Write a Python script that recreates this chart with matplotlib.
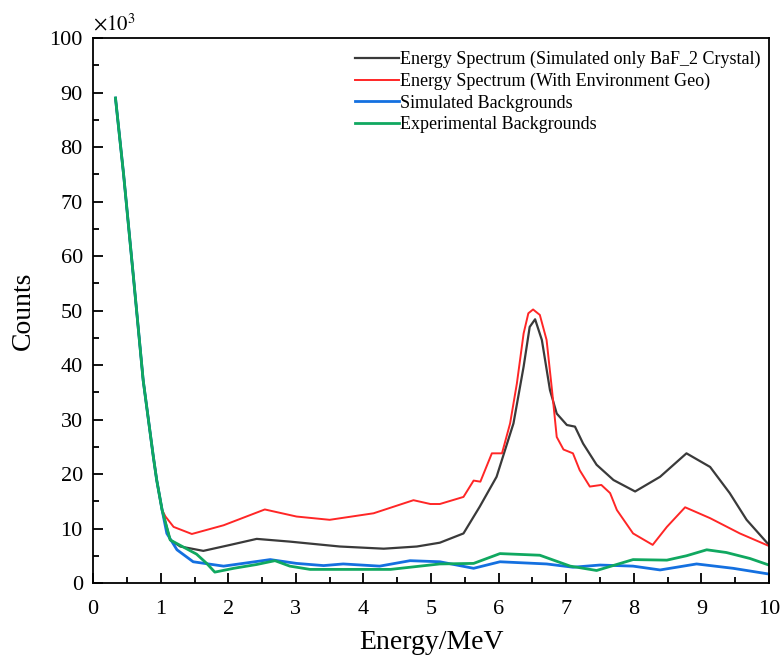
import numpy as np
import matplotlib.pyplot as plt
from matplotlib.ticker import MultipleLocator

plt.rcParams['font.family'] = ['Liberation Serif', 'DejaVu Serif']
plt.rcParams['mathtext.fontset'] = 'stix'

#Data (counts in units of 10^3)
x_black = [0.33, 0.45, 0.6, 0.74, 0.89, 0.94, 1.02, 1.14, 1.29, 1.63, 2.03, 2.42, 2.91, 3.65, 4.3, 4.79,
           5.13, 5.48, 5.72, 5.97, 6.22, 6.37, 6.46, 6.54, 6.64, 6.76, 6.86, 7.01, 7.13, 7.25, 7.45,
           7.7, 8.02, 8.39, 8.78, 9.13, 9.42, 9.67, 10.0]
y_black = [89.0, 75.0, 55.6, 37.2, 23.2, 18.9, 13.4, 7.9, 6.7, 5.9, 7.0, 8.1, 7.6, 6.7, 6.3, 6.7,
           7.4, 9.1, 14.0, 19.5, 29.3, 39.7, 47.0, 48.4, 44.6, 35.4, 31.1, 29.0, 28.7, 25.6, 21.7,
           18.9, 16.8, 19.5, 23.8, 21.3, 16.5, 11.6, 7.0]

x_red = [0.33, 0.45, 0.6, 0.74, 0.89, 0.94, 1.02, 1.07, 1.19, 1.46, 1.93, 2.54, 3.01, 3.5, 4.15, 4.74,
         4.99, 5.13, 5.48, 5.63, 5.73, 5.9, 6.05, 6.17, 6.27, 6.37, 6.44, 6.51, 6.61, 6.71, 6.79,
         6.86, 6.96, 7.1, 7.2, 7.35, 7.52, 7.65, 7.75, 7.99, 8.28, 8.49, 8.76, 9.13, 9.57, 10.0]
y_red = [89.0, 75.0, 55.6, 37.2, 23.2, 18.9, 13.4, 12.2, 10.3, 9.0, 10.6, 13.5, 12.2, 11.6, 12.8, 15.2,
         14.5, 14.5, 15.8, 18.8, 18.6, 23.8, 23.8, 29.3, 36.6, 45.8, 49.5, 50.2, 49.2, 44.6, 35.4,
         26.8, 24.5, 23.8, 20.7, 17.7, 18.0, 16.5, 13.4, 9.1, 7.0, 10.3, 13.9, 11.9, 9.1, 6.8]

x_blue = [0.33, 0.45, 0.6, 0.74, 0.89, 0.94, 1.02, 1.09, 1.24, 1.48, 1.93, 2.62, 3.01, 3.41, 3.7, 4.24,
          4.69, 5.13, 5.63, 6.02, 6.71, 7.1, 7.5, 7.99, 8.39, 8.93, 9.47, 10.0]
y_blue = [89.0, 75.0, 55.6, 37.2, 23.2, 18.9, 13.4, 9.1, 6.1, 3.9, 3.1, 4.3, 3.6, 3.2, 3.5, 3.1,
          4.1, 3.9, 2.7, 3.9, 3.5, 2.9, 3.3, 3.1, 2.4, 3.5, 2.7, 1.65]

x_green = [0.33, 0.45, 0.6, 0.74, 0.89, 0.94, 1.02, 1.14, 1.53, 1.68, 1.8, 2.08, 2.42, 2.69, 2.91, 3.21,
           4.4, 5.13, 5.63, 6.02, 6.61, 7.06, 7.45, 7.99, 8.49, 8.78, 9.08, 9.37, 9.72, 10.0]
y_green = [89.0, 75.0, 55.6, 37.2, 23.2, 18.9, 13.4, 7.9, 5.3, 3.6, 2.0, 2.7, 3.4, 4.1, 3.1, 2.5,
           2.5, 3.5, 3.6, 5.4, 5.1, 3.1, 2.3, 4.3, 4.2, 5.0, 6.1, 5.6, 4.5, 3.3]

labels = ['Energy Spectrum (Simulated only BaF_2 Crystal)',
          'Energy Spectrum (With Environment Geo)',
          'Simulated Backgrounds',
          'Experimental Backgrounds']

#Plot
fig = plt.figure(figsize=(7.83, 6.57), dpi=100)
ax = fig.add_axes([0.119, 0.1126, 0.863, 0.8294])

ax.plot(x_black, y_black, color='#3a3a3a', lw=1.6, label=labels[0])
ax.plot(x_red, y_red, color='#ff2626', lw=1.4, label=labels[1])
ax.plot(x_blue, y_blue, color='#1470e0', lw=2.0, label=labels[2])
ax.plot(x_green, y_green, color='#10a860', lw=2.0, label=labels[3])

ax.set_xlim(0, 10)
ax.set_ylim(0, 100)
ax.xaxis.set_major_locator(MultipleLocator(1))
ax.xaxis.set_minor_locator(MultipleLocator(0.5))
ax.yaxis.set_major_locator(MultipleLocator(10))
ax.yaxis.set_minor_locator(MultipleLocator(5))
ax.tick_params(which='major', direction='in', length=7, width=1.3, labelsize=16)
ax.tick_params(which='minor', direction='in', length=4, width=1.3)
ax.tick_params(axis='x', which='major', pad=12)
ax.tick_params(axis='y', which='major', pad=7.5)
for s in ax.spines.values():
    s.set_linewidth(1.3)

ax.set_xlabel('Energy/MeV', fontsize=20, labelpad=8)
ax.set_ylabel('Counts', fontsize=20, labelpad=10)
ax.text(0.0, 1.005, r'$\times10^3$', transform=ax.transAxes, fontsize=15, ha='left', va='bottom')

leg = ax.legend(loc='upper left', bbox_to_anchor=(0.388, 0.977), fontsize=13, frameon=False,
                borderaxespad=0, borderpad=0, handlelength=2.4, handletextpad=0.1,
                labelspacing=0.26)

fig.savefig('out.png', dpi=100)
